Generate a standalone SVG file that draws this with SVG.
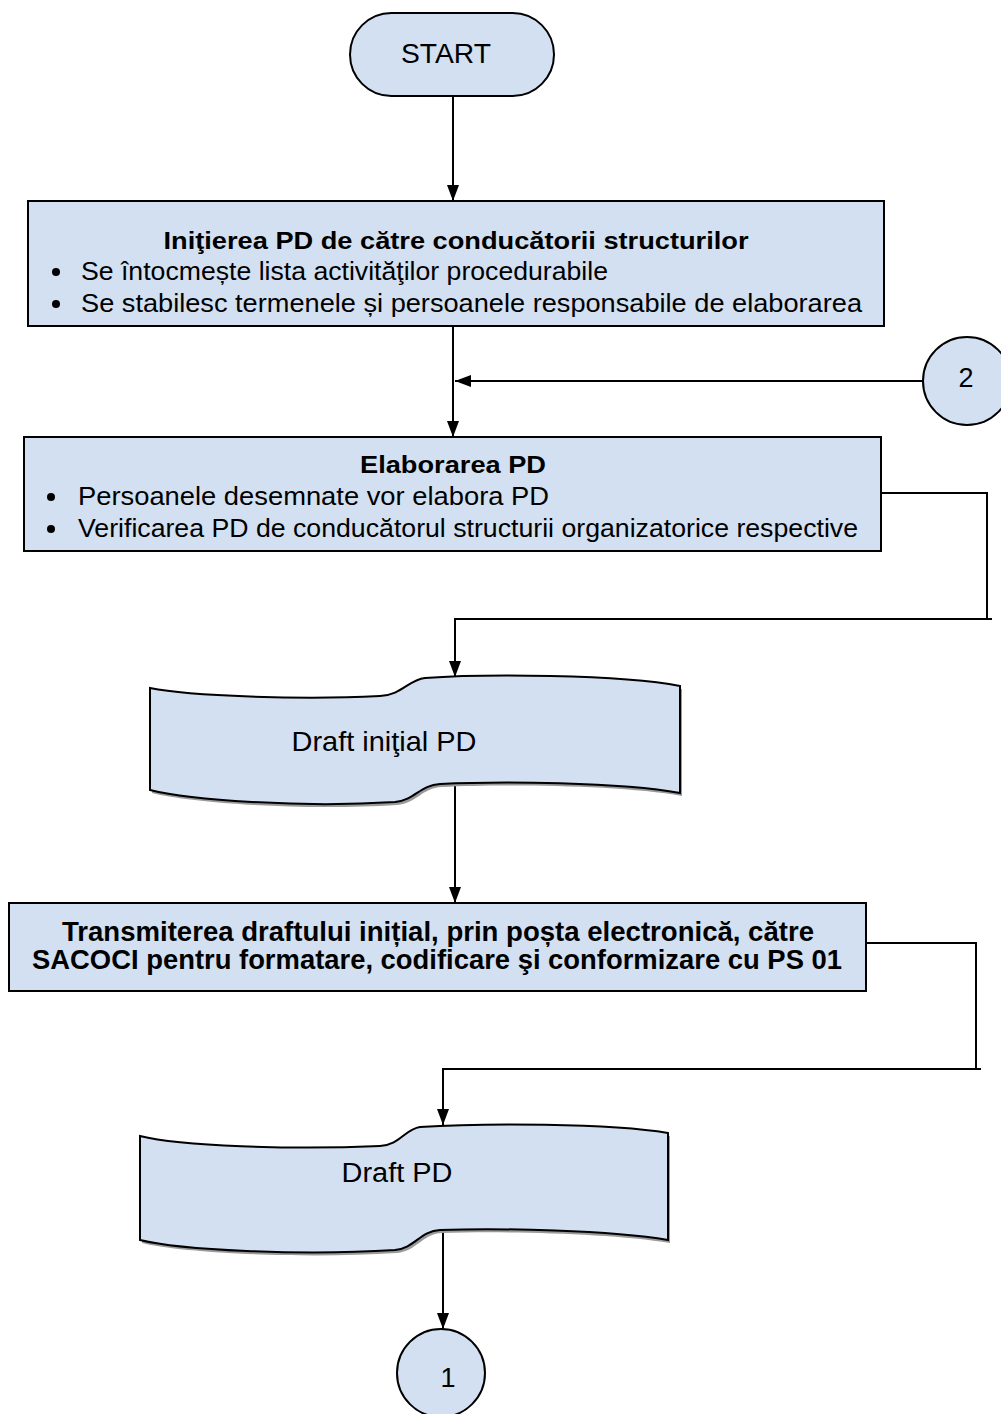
<svg xmlns="http://www.w3.org/2000/svg" width="1001" height="1414" viewBox="0 0 1001 1414">
<style>
.shape{fill:#d3e0f2;stroke:#000;stroke-width:2}
.shadow{fill:#9a9a9a;stroke:none}
.t{font-family:"Liberation Sans",Arial,sans-serif;fill:#000}
.b{font-weight:bold}
.con{fill:none;stroke:#000;stroke-width:2}
</style>
<defs>
<marker id="arr" viewBox="0 0 16 12" refX="16" refY="6" markerWidth="16" markerHeight="12" orient="auto" markerUnits="userSpaceOnUse">
<path d="M0,0 L16,6 L0,12 Z" fill="#000"/>
</marker>
</defs>
<rect width="1001" height="1414" fill="#fff"/>

<g id="connectors">
<line class="con" x1="453" y1="96" x2="453" y2="201" marker-end="url(#arr)"/>
<line class="con" x1="453" y1="326" x2="453" y2="437" marker-end="url(#arr)"/>
<line class="con" x1="923" y1="381" x2="455" y2="381" marker-end="url(#arr)"/>
<polyline class="con" points="881,493 987,493 987,619"/>
<line class="con" x1="992" y1="619" x2="455" y2="619"/>
<line class="con" x1="455" y1="618" x2="455" y2="677" marker-end="url(#arr)"/>
<line class="con" x1="455" y1="785" x2="455" y2="903" marker-end="url(#arr)"/>
<polyline class="con" points="866,943 976,943 976,1069"/>
<line class="con" x1="981" y1="1069" x2="443" y2="1069"/>
<line class="con" x1="443" y1="1068" x2="443" y2="1125" marker-end="url(#arr)"/>
<line class="con" x1="443" y1="1230" x2="443" y2="1329" marker-end="url(#arr)"/>
</g>

<g id="start">
<rect class="shape" x="350" y="13" width="204" height="83" rx="41.5" ry="41.5"/>
<text class="t" x="446" y="63" font-size="28" text-anchor="middle" textLength="90" lengthAdjust="spacingAndGlyphs">START</text>
</g>

<g id="initierea">
<rect class="shape" x="28" y="201" width="856" height="125"/>
<text class="t b" x="456" y="249" font-size="24" text-anchor="middle" textLength="585" lengthAdjust="spacingAndGlyphs">Iniţierea PD de către conducătorii structurilor</text>
<circle cx="56" cy="272" r="4" fill="#000"/>
<text class="t" x="81" y="280" font-size="25" textLength="527" lengthAdjust="spacingAndGlyphs">Se întocmește lista activităţilor procedurabile</text>
<circle cx="56" cy="304" r="4" fill="#000"/>
<text class="t" x="81" y="312" font-size="25" textLength="781" lengthAdjust="spacingAndGlyphs">Se stabilesc termenele și persoanele responsabile de elaborarea</text>
</g>

<g id="conector2">
<circle class="shape" cx="967" cy="381" r="44"/>
<text class="t" x="966" y="387" font-size="27" text-anchor="middle">2</text>
</g>

<g id="elaborarea">
<rect class="shape" x="24" y="437" width="857" height="114"/>
<text class="t b" x="453" y="473" font-size="24" text-anchor="middle" textLength="186" lengthAdjust="spacingAndGlyphs">Elaborarea PD</text>
<circle cx="51" cy="497" r="4" fill="#000"/>
<text class="t" x="78" y="505" font-size="25" textLength="471" lengthAdjust="spacingAndGlyphs">Persoanele desemnate vor elabora PD</text>
<circle cx="51" cy="529" r="4" fill="#000"/>
<text class="t" x="78" y="537" font-size="25" textLength="780" lengthAdjust="spacingAndGlyphs">Verificarea PD de conducătorul structurii organizatorice respective</text>
</g>

<g id="draft-initial">
<path class="shadow" transform="translate(2,3)" d="M150,688 C190,696 300,700 380,696 C402,695 408,680 425,678 C480,674 620,674 680,686 L680,793 C620,782 500,781 440,784 C420,785 415,800 395,802 C300,808 190,800 150,790 Z"/>
<path class="shape" d="M150,688 C190,696 300,700 380,696 C402,695 408,680 425,678 C480,674 620,674 680,686 L680,793 C620,782 500,781 440,784 C420,785 415,800 395,802 C300,808 190,800 150,790 Z"/>
<text class="t" x="384" y="751" font-size="28" text-anchor="middle" textLength="185" lengthAdjust="spacingAndGlyphs">Draft iniţial PD</text>
</g>

<g id="transmiterea">
<rect class="shape" x="9" y="903" width="857" height="88"/>
<text class="t b" x="438" y="941" font-size="27" text-anchor="middle" textLength="752" lengthAdjust="spacingAndGlyphs">Transmiterea draftului inițial, prin poșta electronică, către</text>
<text class="t b" x="437" y="969" font-size="27" text-anchor="middle" textLength="810" lengthAdjust="spacingAndGlyphs">SACOCI pentru formatare, codificare şi conformizare cu PS 01</text>
</g>

<g id="draft-pd">
<path class="shadow" transform="translate(2,3)" d="M140,1136 C180,1146 290,1150 380,1146 C400,1145 405,1129 420,1127 C480,1123 610,1123 668,1133 L668,1240 C610,1230 500,1228 440,1230 C420,1231 415,1248 395,1250 C300,1256 180,1250 140,1240 Z"/>
<path class="shape" d="M140,1136 C180,1146 290,1150 380,1146 C400,1145 405,1129 420,1127 C480,1123 610,1123 668,1133 L668,1240 C610,1230 500,1228 440,1230 C420,1231 415,1248 395,1250 C300,1256 180,1250 140,1240 Z"/>
<text class="t" x="397" y="1182" font-size="27" text-anchor="middle" textLength="111" lengthAdjust="spacingAndGlyphs">Draft PD</text>
</g>

<g id="conector1">
<circle class="shape" cx="441" cy="1373" r="44"/>
<text class="t" x="448" y="1387" font-size="27" text-anchor="middle">1</text>
</g>
</svg>
